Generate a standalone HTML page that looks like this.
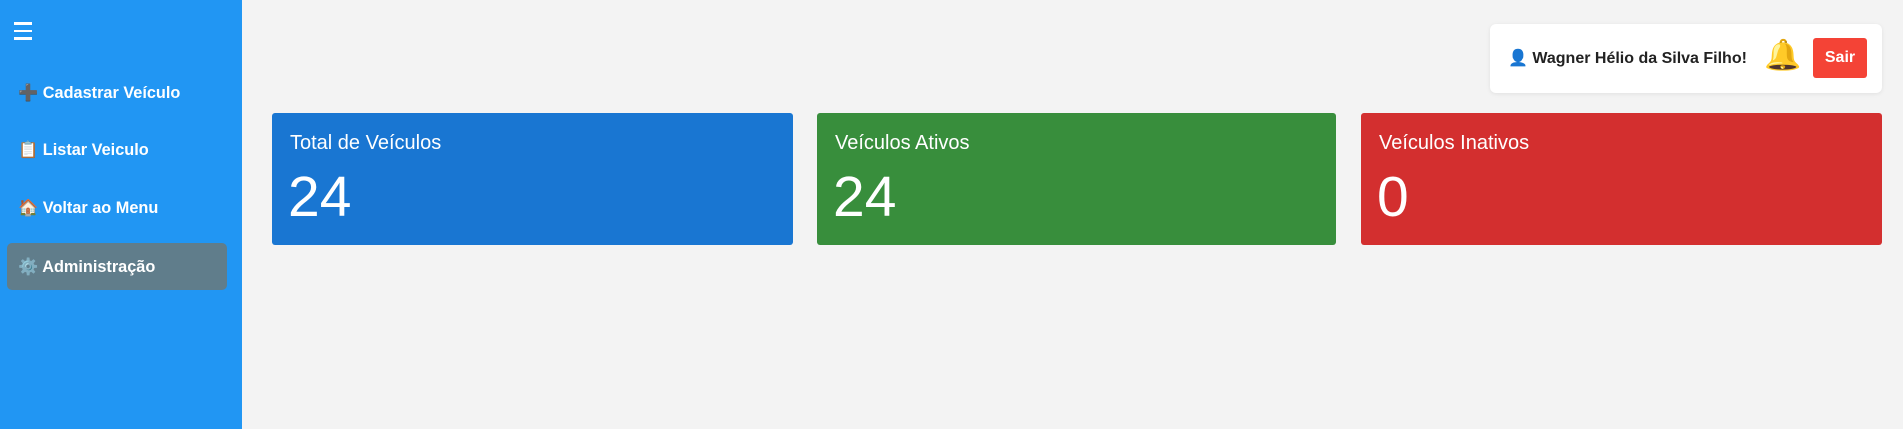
<!DOCTYPE html>
<html><head><meta charset="utf-8"><style>
*{box-sizing:border-box;margin:0;padding:0}
body{width:1903px;height:429px;background:#f3f3f3;font-family:"Liberation Sans",sans-serif;position:relative;overflow:hidden}
.sb{position:absolute;left:0;top:0;width:242px;height:429px;background:#2196f3}
.ham{position:absolute;left:14px;top:22px;width:18px;color:#fff}
.ham i{display:block;height:2.5px;background:#fff;margin-bottom:5px}
.item{position:absolute;left:18px;color:#fff;font-weight:bold;font-size:16.3px;white-space:nowrap}
.adm{position:absolute;left:7px;top:243px;width:220px;height:47px;background:#607d8b;border-radius:5px}
.hdr{position:absolute;left:1490px;top:24px;width:392px;height:69px;background:#fff;border-radius:6px;box-shadow:0 1px 4px rgba(0,0,0,.08)}
.name{position:absolute;left:18px;top:24px;font-weight:bold;font-size:16px;color:#222;white-space:nowrap}
.bell{position:absolute;left:274px;top:17px;font-size:30px;line-height:1}
.sair{position:absolute;left:323px;top:14px;width:54px;height:40px;background:#f44336;color:#fff;font-weight:bold;font-size:16px;border-radius:3px;text-align:center;line-height:40px}
.card{position:absolute;top:113px;height:132px;border-radius:3px;color:#fff}
.card .t{position:absolute;left:18px;top:19px;font-size:20px}
.card .n{position:absolute;left:16px;top:56px;font-size:57px;line-height:1}
</style></head><body>
<div class="sb">
 <div class="ham"><i></i><i></i><i></i></div>
 <div class="item" style="top:83px">➕ Cadastrar Veículo</div>
 <div class="item" style="top:140px">📋 Listar Veiculo</div>
 <div class="item" style="top:198px">🏠 Voltar ao Menu</div>
 <div class="adm"></div>
 <div class="item" style="top:257px">⚙️ Administração</div>
</div>
<div class="hdr">
 <div class="name">👤 Wagner Hélio da Silva Filho!</div>
 <div class="bell">🔔</div>
 <div class="sair">Sair</div>
</div>
<div class="card" style="left:272px;width:521px;background:#1976d2"><div class="t">Total de Veículos</div><div class="n">24</div></div>
<div class="card" style="left:817px;width:519px;background:#388e3c"><div class="t">Veículos Ativos</div><div class="n">24</div></div>
<div class="card" style="left:1361px;width:521px;background:#d32f2f"><div class="t">Veículos Inativos</div><div class="n">0</div></div>
</body></html>
